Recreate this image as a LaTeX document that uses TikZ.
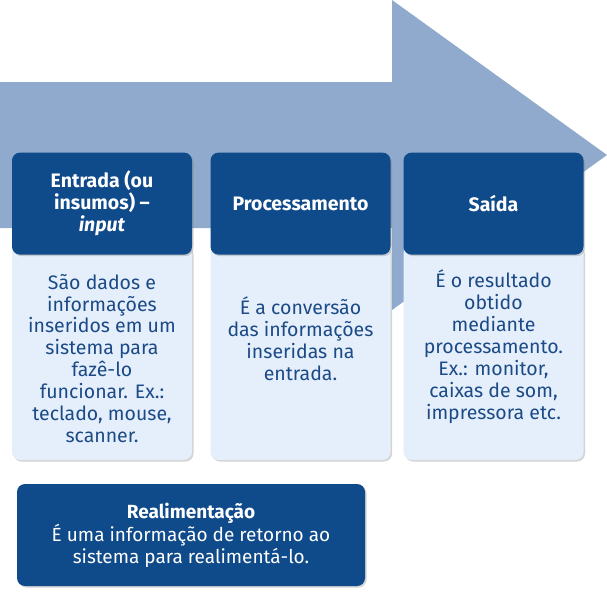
\documentclass[tikz,border=0pt]{standalone}
\usepackage{fontspec}
\setmainfont{Fira Sans}
\usetikzlibrary{positioning,shadows}
\definecolor{arrowblue}{RGB}{143,170,204}
\definecolor{darkblue}{RGB}{15,74,138}
\definecolor{paleblue}{RGB}{228,239,251}
\definecolor{inkblue}{RGB}{28,74,134}

\begin{document}
\begin{tikzpicture}[x=1pt,y=-1pt,
   shade box/.style={drop shadow={shadow xshift=1.5pt,shadow yshift=-1.5pt,opacity=.35}},
   head/.style={shade box,fill=darkblue,rounded corners=8pt,minimum width=180pt,minimum height=102pt,
     text=white,align=center,font=\fontsize{19.5}{22}\selectfont\bfseries},
   body/.style={shade box,fill=paleblue,rounded corners=8pt,minimum width=180pt,minimum height=215pt},
   txt/.style={text=inkblue,align=center,inner sep=0pt,font=\fontsize{19.5}{21.9}\selectfont},
   fb/.style={shade box,fill=darkblue,rounded corners=8pt,minimum width=348pt,minimum height=102pt,
     text=white,align=center,font=\fontsize{19}{22}\selectfont}]

\useasboundingbox (0,0) rectangle (607,595);
\fill[arrowblue] (0,82) -- (392,82) -- (392,0) -- (607,155) -- (392,310) -- (392,228) -- (0,228) -- cycle;

\node[body] (bin) at (102,352.5) {};
\node[body] (bproc) at (300.5,352.5) {};
\node[body] (bout) at (493.5,352.5) {};

\node[head, above=-10pt of bin] (hin) {Entrada (ou\\insumos) --\\\textit{input}};
\node[head, above=-10pt of bproc] (hproc) {Processamento};
\node[head, above=-10pt of bout] (hout) {Saída};

\node[txt, below=19pt of hin] (tin) {São dados e\\informações\\inseridos em um\\sistema para\\fazê-lo\\funcionar. Ex.:\\teclado, mouse,\\scanner.};
\node[txt, below=42pt of hproc] (tproc) {É a conversão\\das informações\\inseridas na\\entrada.};
\node[txt, below=15pt of hout] (tout) {É o resultado\\obtido\\mediante\\processamento.\\Ex.: monitor,\\caixas de som,\\impressora etc.};

\node[fb] (fb) at (191,535) {\textbf{Realimentação}\\É uma informação de retorno ao\\sistema para realimentá-lo.};

\end{tikzpicture}
\end{document}
